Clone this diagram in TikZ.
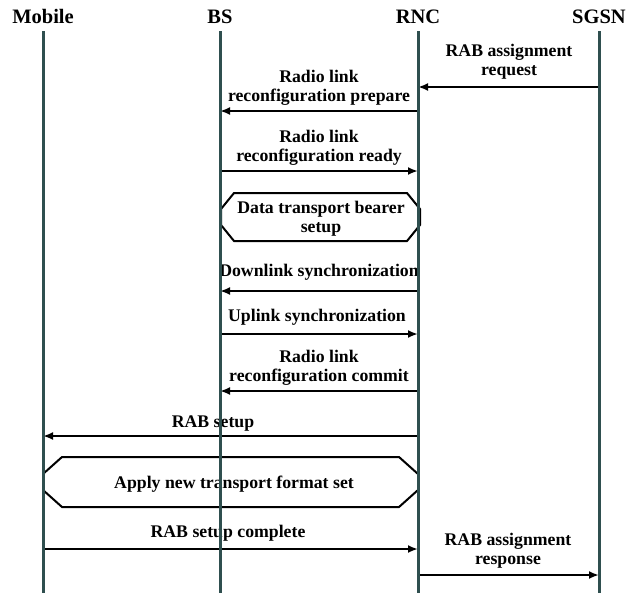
\documentclass[tikz,border=0pt]{standalone}
\usepackage{fontspec}
\setmainfont{Liberation Serif}
\usetikzlibrary{arrows.meta}
\definecolor{lifeln}{RGB}{47,79,79}
\tikzset{
  x=1pt, y=-1pt,
  head/.style={font=\fontsize{20.5}{22}\selectfont\bfseries, inner sep=0pt, anchor=base},
  lbl/.style={font=\fontsize{17.75}{19}\selectfont\bfseries, align=center, inner sep=0pt},
  msg/.style={line width=2pt, -{Latex[length=10pt,width=8pt]}},
  life/.style={draw=lifeln, line width=3pt},
  actbox/.style={draw=black, line width=2pt, line join=miter},
}
\begin{document}
\begin{tikzpicture}
\useasboundingbox (0,0) rectangle (628,595);
% headers
\node[head] (hm) at (43,23) {Mobile};
\node[head] (hb) at (220,23) {BS};
\node[head] (hr) at (418,23) {RNC};
\node[head] (hs) at (599,23) {SGSN};
% lifeline ends
\coordinate (tm) at (43,31);  \coordinate (bm) at (43,593);
\coordinate (tb) at (220,31); \coordinate (bb) at (220,593);
\coordinate (tr) at (418,31); \coordinate (br) at (418,593);
\coordinate (ts) at (599,31); \coordinate (bs) at (599,593);
% message end points
\coordinate (s1) at (599,87);  \coordinate (r1) at (418,87);
\coordinate (r2) at (418,111); \coordinate (b2) at (220,111);
\coordinate (b3) at (220,171); \coordinate (r3) at (418,171);
\coordinate (r4) at (418,291); \coordinate (b4) at (220,291);
\coordinate (b5) at (220,334); \coordinate (r5) at (418,334);
\coordinate (r6) at (418,391); \coordinate (b6) at (220,391);
\coordinate (r7) at (418,436); \coordinate (m7) at (43,436);
\coordinate (m8) at (43,549);  \coordinate (r8) at (418,549);
\coordinate (r9) at (418,575); \coordinate (s9) at (599,575);
% labels
\node[lbl] (l1) at (509,62) {RAB assignment\\request};
\node[lbl] (l2) at (319,88) {Radio link\\reconfiguration prepare};
\node[lbl] (l3) at (319,148) {Radio link\\reconfiguration ready};
\node[lbl] (l4) at (319,272) {Downlink synchronization};
\node[lbl] (l5) at (317,317) {Uplink synchronization};
\node[lbl] (l6) at (319,368) {Radio link\\reconfiguration commit};
\node[lbl] (l7) at (213,424) {RAB setup};
\node[lbl] (l8) at (228,533) {RAB setup complete};
\node[lbl] (l9) at (508,551) {RAB assignment\\response};
% messages
\draw[msg] (s1) -- (r1);
\draw[msg] (r2) -- (b2);
\draw[msg] (b3) -- (r3);
\draw[msg] (r4) -- (b4);
\draw[msg] (b5) -- (r5);
\draw[msg] (r6) -- (b6);
\draw[msg] (r7) -- (m7);
\draw[msg] (m8) -- (r8);
\draw[msg] (r9) -- (s9);
% action boxes
\draw[actbox, fill=white] (234,193) -- (407,193) -- (420,209) -- (420,225) -- (407,241) -- (234,241) -- (221,225) -- (221,209) -- cycle;
\node[lbl] (a1) at (321,219) {Data transport bearer\\setup};
\draw[actbox] (62,457) -- (399,457) -- (418,474) -- (418,490) -- (399,507) -- (62,507) -- (43,490) -- (43,474) -- cycle;
\node[lbl] (a2) at (234,484) {Apply new transport format set};
% lifelines
\draw[life] (tm) -- (bm);
\draw[life] (tb) -- (bb);
\draw[life] (tr) -- (br);
\draw[life] (ts) -- (bs);
\end{tikzpicture}
\end{document}
